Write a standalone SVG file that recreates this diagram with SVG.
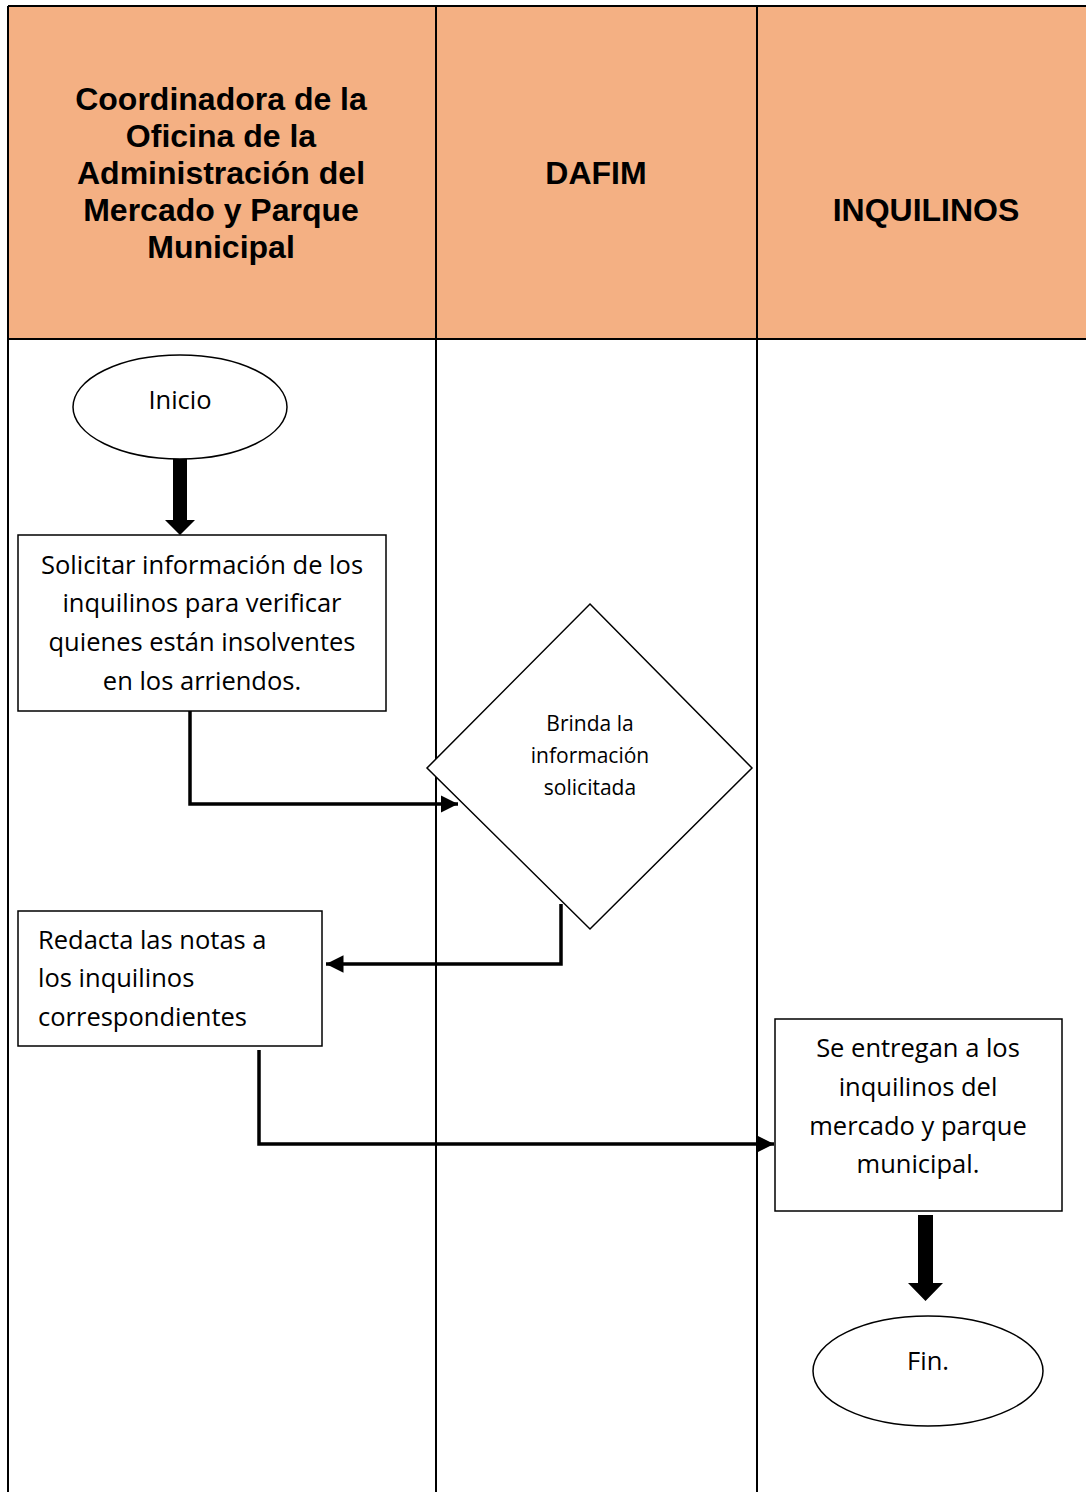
<svg xmlns="http://www.w3.org/2000/svg" width="1086" height="1492" viewBox="0 0 1086 1492">
<defs>
<marker id="ah" viewBox="0 0 10 10" refX="10" refY="5" markerWidth="5" markerHeight="5" markerUnits="strokeWidth" orient="auto">
<path d="M0,0 L10,5 L0,10 z" fill="#000"/>
</marker>
<style>
.hdr{font-family:"Liberation Sans",Arial,sans-serif;font-weight:bold;font-size:32px;fill:#000;text-anchor:middle}
.t{font-family:"Open Sans","Noto Sans",sans-serif;font-size:25.5px;fill:#000}
.c{text-anchor:middle}
.node{fill:#fff;stroke:#000;stroke-width:1.5}
.conn{fill:none;stroke:#000;stroke-width:3.5}
.grid{stroke:#000;stroke-width:2;fill:none}
</style>
</defs>
<rect width="1086" height="1492" fill="#fff"/>
<g id="lanes">
<rect x="8" y="6" width="1080" height="333" fill="#F4B083"/>
<path class="grid" d="M8,6 H1088 M8,339 H1088 M8,6 V1492 M436,6 V1492 M757,6 V1492"/>
<text class="hdr" x="221" y="110">Coordinadora de la</text>
<text class="hdr" x="221" y="147">Oficina de la</text>
<text class="hdr" x="221" y="184">Administración del</text>
<text class="hdr" x="221" y="221">Mercado y Parque</text>
<text class="hdr" x="221" y="258">Municipal</text>
<text class="hdr" x="596" y="184">DAFIM</text>
<text class="hdr" x="926" y="221">INQUILINOS</text>
</g>
<g id="connectors">
<path class="conn" d="M190,711 V804 H458" marker-end="url(#ah)"/>
<path class="conn" d="M561,904 V964 H326" marker-end="url(#ah)"/>
<path class="conn" d="M259,1050 V1144 H774" marker-end="url(#ah)"/>
<path d="M173,455 H187 V520 H195 L180,535 L165,520 H173 z" fill="#000"/>
<path d="M918,1215 H933 V1283 H943 L925.5,1301 L908,1283 H918 z" fill="#000"/>
</g>
<g id="inicio">
<ellipse class="node" cx="180" cy="407" rx="107" ry="52"/>
<text class="t c" x="180" y="409">Inicio</text>
</g>
<g id="solicitar">
<rect class="node" x="18" y="535" width="368" height="176"/>
<text class="t c" x="202" y="574">Solicitar información de los</text>
<text class="t c" x="202" y="612">inquilinos para verificar</text>
<text class="t c" x="202" y="651">quienes están insolventes</text>
<text class="t c" x="202" y="690">en los arriendos.</text>
</g>
<g id="brinda">
<polygon class="node" points="590,604 752,768 590,929 427,768"/>
<text class="t c" x="590" y="731" style="font-size:21px">Brinda la</text>
<text class="t c" x="590" y="763" style="font-size:21px">información</text>
<text class="t c" x="590" y="795" style="font-size:21px">solicitada</text>
</g>
<g id="redacta">
<rect class="node" x="18" y="911" width="304" height="135"/>
<text class="t" x="38" y="949">Redacta las notas a</text>
<text class="t" x="38" y="987">los inquilinos</text>
<text class="t" x="38" y="1026">correspondientes</text>
</g>
<g id="entregan">
<rect class="node" x="775" y="1019" width="287" height="192"/>
<text class="t c" x="918" y="1057">Se entregan a los</text>
<text class="t c" x="918" y="1096">inquilinos del</text>
<text class="t c" x="918" y="1135">mercado y parque</text>
<text class="t c" x="918" y="1173">municipal.</text>
</g>
<g id="fin">
<ellipse class="node" cx="928" cy="1371" rx="115" ry="55"/>
<text class="t c" x="928" y="1370">Fin.</text>
</g>
</svg>
